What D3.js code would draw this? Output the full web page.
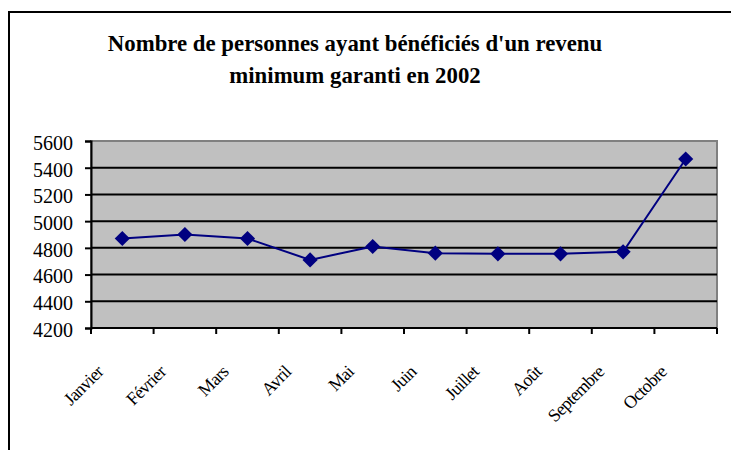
<!DOCTYPE html>
<html>
<head>
<meta charset="utf-8">
<script src="https://cdn.jsdelivr.net/npm/d3@7"></script>
<style>
  body { margin: 0; background: #fff; }
  svg { display: block; }
  svg text { font-family: "Liberation Serif", "Times New Roman", serif; fill: #000; }
</style>
</head>
<body>
<div id="chart"></div>
<script>
// Data
const months = ["Janvier", "Février", "Mars", "Avril", "Mai", "Juin",
                "Juillet", "Août", "Septembre", "Octobre"];
const people = [4870, 4900, 4870, 4710, 4810, 4760, 4755, 4755, 4770, 5465];
const yTicks = [4200, 4400, 4600, 4800, 5000, 5200, 5400, 5600];
const titleLines = ["Nombre de personnes ayant bénéficiés d'un revenu",
                    "minimum garanti en 2002"];

const width = 731, height = 450;
const plot = { left: 91, top: 141, right: 717, bottom: 328 };
const serif = "Liberation Serif, Times New Roman, serif";

const svg = d3.select("#chart").append("svg")
  .attr("width", width).attr("height", height);

// outer frame (runs off the right and bottom edge)
svg.append("rect")
  .attr("x", 9).attr("y", 12)
  .attr("width", 760).attr("height", 480)
  .attr("fill", "none").attr("stroke", "#000").attr("stroke-width", 2);

// title
svg.append("text")
  .attr("x", 355).attr("y", 51)
  .attr("text-anchor", "middle")
  .attr("font-family", serif)
  .attr("font-weight", "bold").attr("font-size", 22.8)
  .selectAll("tspan").data(titleLines).join("tspan")
  .attr("x", 355).attr("dy", (d, i) => i ? 32 : 0)
  .text(d => d);

const x = d3.scaleBand().domain(months).range([plot.left, plot.right]);
const y = d3.scaleLinear().domain([4200, 5600]).range([plot.bottom, plot.top]);

// plot background
svg.append("rect")
  .attr("x", plot.left).attr("y", plot.top)
  .attr("width", plot.right - plot.left).attr("height", plot.bottom - plot.top)
  .attr("fill", "#c0c0c0").attr("stroke", "#808080").attr("stroke-width", 2);

// gridlines
svg.append("g").selectAll("line")
  .data(yTicks.filter(d => d > 4200 && d < 5600)).join("line")
  .attr("x1", plot.left).attr("x2", plot.right)
  .attr("y1", d => y(d)).attr("y2", d => y(d))
  .attr("stroke", "#000").attr("stroke-width", 2);

// y axis
const yAxis = svg.append("g")
  .attr("transform", `translate(${plot.left},0)`)
  .call(d3.axisLeft(y).tickValues(yTicks).tickSize(6).tickPadding(12).tickFormat(d3.format("d")));
yAxis.attr("font-family", serif).attr("font-size", 20);
yAxis.select(".domain").attr("stroke-width", 2);
yAxis.selectAll(".tick line").attr("stroke-width", 2);
yAxis.selectAll("text").attr("font-size", 20).attr("dy", "0.42em");

// x axis: ticks at band boundaries
const xAxis = svg.append("g")
  .attr("transform", `translate(0,${plot.bottom})`);
xAxis.append("line")
  .attr("x1", plot.left).attr("x2", plot.right)
  .attr("stroke", "#000").attr("stroke-width", 2);
xAxis.selectAll("line.tick")
  .data(months.concat([null])).join("line")
  .attr("class", "tick")
  .attr("x1", (d, i) => plot.left + i * x.step())
  .attr("x2", (d, i) => plot.left + i * x.step())
  .attr("y1", 0).attr("y2", 6)
  .attr("stroke", "#000").attr("stroke-width", 2);
xAxis.selectAll("text")
  .data(months).join("text")
  .attr("transform", d => `translate(${x(d) + x.bandwidth() / 2 - 18},45) rotate(-45)`)
  .attr("text-anchor", "end")
  .attr("font-family", serif)
  .attr("font-size", 18)
  .attr("letter-spacing", -0.7)
  .text(d => d);

// line + markers
const cx = d => x(d) + x.bandwidth() / 2;
svg.append("path")
  .datum(people)
  .attr("fill", "none").attr("stroke", "#000080").attr("stroke-width", 2)
  .attr("d", d3.line().x((d, i) => cx(months[i])).y(d => y(d)));

svg.append("g").selectAll("path")
  .data(people).join("path")
  .attr("d", d3.symbol(d3.symbolSquare, 115))
  .attr("transform", (d, i) => `translate(${cx(months[i])},${y(d)}) rotate(45)`)
  .attr("fill", "#000080");
</script>
</body>
</html>
